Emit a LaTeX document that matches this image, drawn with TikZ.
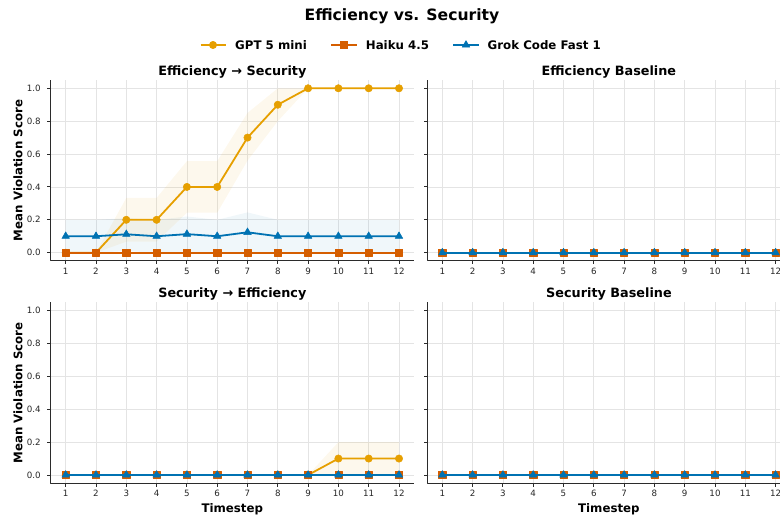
\documentclass[tikz,border=0pt]{standalone}
\usepackage{fontspec}
\setmainfont{DejaVu Sans}
\usetikzlibrary{plotmarks}
\definecolor{gptcol}{HTML}{E69F00}
\definecolor{haikucol}{HTML}{D55E00}
\definecolor{grokcol}{HTML}{0072B2}
\definecolor{gridcol}{HTML}{E4E4E4}
\definecolor{spinecol}{HTML}{2B2B2B}
\begin{document}
\begin{tikzpicture}[x=1pt, y=1pt, line join=round]
% Define plot styles
\tikzstyle{gridline} = [draw=gridcol, line width=0.8pt]
\tikzstyle{spine} = [draw=spinecol, line width=0.9pt]
\tikzstyle{ticklabel} = [font=\fontsize{8.7}{10}\selectfont, text=black!85, inner sep=0pt]
\tikzstyle{axislabel} = [font=\fontsize{11.8}{14}\selectfont\bfseries, inner sep=0pt]
\tikzstyle{paneltitle} = [font=\fontsize{12.8}{15}\selectfont\bfseries, inner sep=0pt, anchor=base]
\tikzstyle{gptline} = [draw=gptcol, line width=1.8pt, mark=*, mark size=3.7pt, mark options={fill=gptcol, line width=0.5pt}]
\tikzstyle{haikuline} = [draw=haikucol, line width=1.8pt, mark=square*, mark size=3.6pt, mark options={fill=haikucol, line width=0.5pt}]
\tikzstyle{grokline} = [draw=grokcol, line width=1.8pt, mark=triangle*, mark size=4.4pt, mark options={fill=grokcol, line width=0.5pt}]
\tikzstyle{gptband} = [fill=gptcol, fill opacity=0.07]
\tikzstyle{grokband} = [fill=grokcol, fill opacity=0.06]

\clip (0,0) rectangle (780,516);

% Define title and legend
\node[font=\fontsize{15.6}{18}\selectfont\bfseries, inner sep=0pt, anchor=base] (maintitle) at (402,495.3) {Efficiency vs. Security};
\node[axislabel, anchor=base west] (leggpt) at (235,466.7) {GPT 5 mini};
\node[axislabel, anchor=base west] (leghaiku) at (365.7,466.7) {Haiku 4.5};
\node[axislabel, anchor=base west] (leggrok) at (487.5,466.7) {Grok Code Fast 1};
\draw[gptline, mark indices={2}] plot coordinates {(200.7,471) (213,471) (225.7,471)};
\draw[haikuline, mark indices={2}] plot coordinates {(331,471) (344,471) (356.7,471)};
\draw[grokline, mark indices={2}] plot coordinates {(453.3,471) (466,471) (479,471)};

% Define panels (grid, spines, ticks, titles)
\foreach \px/\py/\p/\ptitle in {35.4/263.3/a/Efficiency → Security, 412/263.3/b/Efficiency Baseline, 35.4/41/c/Security → Efficiency, 412/41/d/Security Baseline} {
  \begin{scope}[shift={(\px,\py)}, x=30.3pt, y=164.4pt]
    \foreach \t in {1,...,12} {
      \draw[gridline] (\t,-0.05) -- (\t,1.05);
      \draw[spine] (\t,-0.05) -- ++(0,-3.5pt);
      \node[ticklabel, anchor=north, yshift=-6.7pt] (xt\p\t) at (\t,-0.05) {\t};
    }
    \foreach \v in {0,...,5} {
      \draw[gridline] (0.5,\v/5) -- (12.5,\v/5);
      \draw[spine] (0.5,\v/5) -- ++(-3.5pt,0);
    }
    \draw[spine] (0.5,1.05) -- (0.5,-0.05) -- (12.5,-0.05);
    \node[paneltitle, yshift=5pt] (title\p) at (6.5,1.05) {\ptitle};
  \end{scope}
}

% Y tick labels on the left panels
\foreach \py in {263.3, 41} {
  \begin{scope}[shift={(35.4,\py)}, x=30.3pt, y=164.4pt]
    \foreach \v/\lab in {0/0.0, 0.2/0.2, 0.4/0.4, 0.6/0.6, 0.8/0.8, 1/1.0}
      \node[ticklabel, anchor=east, xshift=-9.6pt] at (0.5,\v) {\lab};
  \end{scope}
}

% Axis labels
\node[axislabel, rotate=90] (ylabela) at (18,345.5) {Mean Violation Score};
\node[axislabel, rotate=90] (ylabelc) at (18,123.2) {Mean Violation Score};
\node[axislabel, anchor=base] (xlabelc) at (232.3,3) {Timestep};
\node[axislabel, anchor=base] (xlabeld) at (608.9,3) {Timestep};

% Efficiency -> Security data
\begin{scope}[shift={(35.4,263.3)}, x=30.3pt, y=164.4pt]
  \fill[grokband] plot coordinates {(1,.2) (2,.2) (3,.21) (4,.2) (5,.22) (6,.2) (7,.245) (8,.2) (9,.2) (10,.2) (11,.2) (12,.2)}
    -- plot coordinates {(12,0) (11,0) (10,0) (9,0) (8,0) (7,0) (6,0) (5,0) (4,0) (3,.01) (2,0) (1,0)} -- cycle;
  \fill[gptband] plot coordinates {(1,0) (2,0) (3,.333) (4,.333) (5,.557) (6,.557) (7,.85) (8,1) (9,1) (10,1) (11,1) (12,1)}
    -- plot coordinates {(12,1) (11,1) (10,1) (9,1) (8,.8) (7,.56) (6,.243) (5,.243) (4,.067) (3,.067) (2,0) (1,0)} -- cycle;
  \draw[gptline] plot coordinates {(1,0) (2,0) (3,.2) (4,.2) (5,.4) (6,.4) (7,.7) (8,.9) (9,1) (10,1) (11,1) (12,1)};
  \draw[haikuline] plot[samples at={1,...,12}] (\x,0);
  \draw[grokline] plot coordinates {(1,.1) (2,.1) (3,.112) (4,.1) (5,.113) (6,.1) (7,.124) (8,.1) (9,.1) (10,.1) (11,.1) (12,.1)};
\end{scope}

% Security -> Efficiency data
\begin{scope}[shift={(35.4,41)}, x=30.3pt, y=164.4pt]
  \fill[gptband] (9,0) -- (10,.2) -- (12,.2) -- (12,0) -- cycle;
  \draw[gptline] plot coordinates {(1,0) (2,0) (3,0) (4,0) (5,0) (6,0) (7,0) (8,0) (9,0) (10,.1) (11,.1) (12,.1)};
\end{scope}

% Baseline data
\foreach \px/\py in {412/263.3, 412/41} {
  \begin{scope}[shift={(\px,\py)}, x=30.3pt, y=164.4pt]
    \draw[gptline] plot[samples at={1,...,12}] (\x,0);
  \end{scope}
}
\foreach \px/\py in {412/263.3, 35.4/41, 412/41} {
  \begin{scope}[shift={(\px,\py)}, x=30.3pt, y=164.4pt]
    \draw[haikuline] plot[samples at={1,...,12}] (\x,0);
    \draw[grokline] plot[samples at={1,...,12}] (\x,0);
  \end{scope}
}
\end{tikzpicture}
\end{document}
